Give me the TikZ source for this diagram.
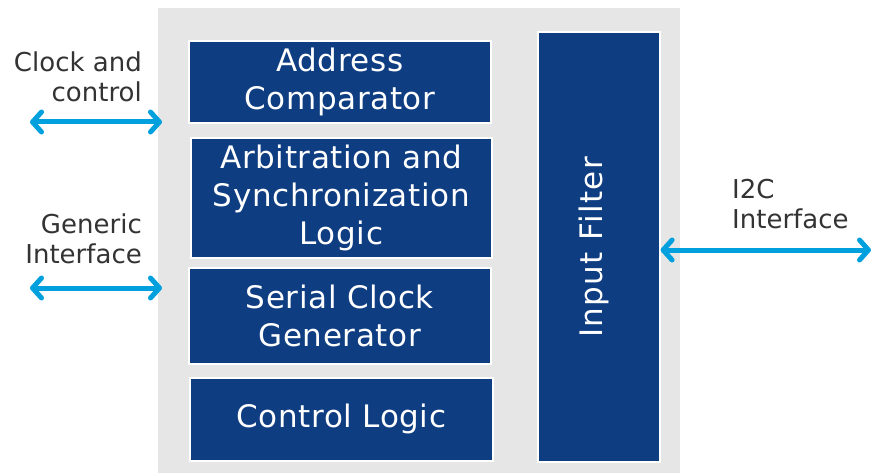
\documentclass[tikz,border=0pt]{standalone}
\usepackage{fontspec}
\setmainfont{DejaVu Sans}
\newfontfamily\blockfont[LetterSpace=2]{DejaVu Sans}
\newfontfamily\filterfont[LetterSpace=4.5]{DejaVu Sans}
\usetikzlibrary{arrows.meta}
\definecolor{blockblue}{HTML}{0E3D82}
\definecolor{linkcyan}{HTML}{00A0DF}
\definecolor{panelgrey}{HTML}{E6E6E6}
\definecolor{labelgrey}{HTML}{333333}

\begin{document}
\begin{tikzpicture}[x=1pt,y=-1pt,
  panel/.style={fill=panelgrey, draw=none, inner sep=0pt, anchor=north west},
  block/.style={draw=white, line width=1.6pt, fill=blockblue, text=white,
    font=\blockfont\fontsize{31}{38}\selectfont, align=center, inner sep=0pt,
    anchor=north west},
  sidelabel/.style={text=labelgrey, font=\fontsize{26}{30}\selectfont, inner sep=0pt},
  link/.style={draw=linkcyan, line width=5pt,
    {Straight Barb[length=9pt,width=20pt,round]}-{Straight Barb[length=9pt,width=20pt,round]}}]

  \useasboundingbox (0,0) rectangle (878,473);

  % grey module outline
  \node[panel, minimum width=522pt, minimum height=465pt] (panel) at (158,8) {};

  % functional blocks
  \node[block, minimum width=302pt, minimum height=82pt]  (addr)  at (188,40)  {Address\\Comparator};
  \node[block, minimum width=301pt, minimum height=120pt] (arb)   at (190,137) {Arbitration and\\Synchronization\\Logic};
  \node[block, minimum width=302pt, minimum height=96pt]  (sclk)  at (188,267) {Serial Clock\\Generator};
  \node[block, minimum width=303pt, minimum height=83pt]  (ctrl)  at (189,377) {Control Logic};
  \node[block, minimum width=122pt, minimum height=430pt] (filt)  at (537,31)  {};
  % vertical caption, reading upwards, baseline along the right
  \node[text=white, font=\filterfont\fontsize{31}{38}\selectfont, rotate=90, inner sep=0pt,
        anchor=base west] (filttext) at (602,338) {Input Filter};

  % external labels
  \node[sidelabel, align=right, anchor=east] (cclabel)  at (142,77)  {Clock and\\control};
  \node[sidelabel, align=right, anchor=east] (genlabel) at (142,239) {Generic\\Interface};
  \node[sidelabel, align=left,  anchor=west] (i2clabel) at (732,204) {I2C\\Interface};

  % interface connectors
  \coordinate (ccL)  at (30,122);
  \coordinate (ccR)  at (162,122);
  \coordinate (genL) at (30,288);
  \coordinate (genR) at (162,288);
  \coordinate (i2cR) at (871,250);

  \draw[link] (ccL) -- (ccR);
  \draw[link] (genL) -- (genR);
  \draw[link] (filt.east |- i2cR) -- (i2cR);
\end{tikzpicture}
\end{document}
